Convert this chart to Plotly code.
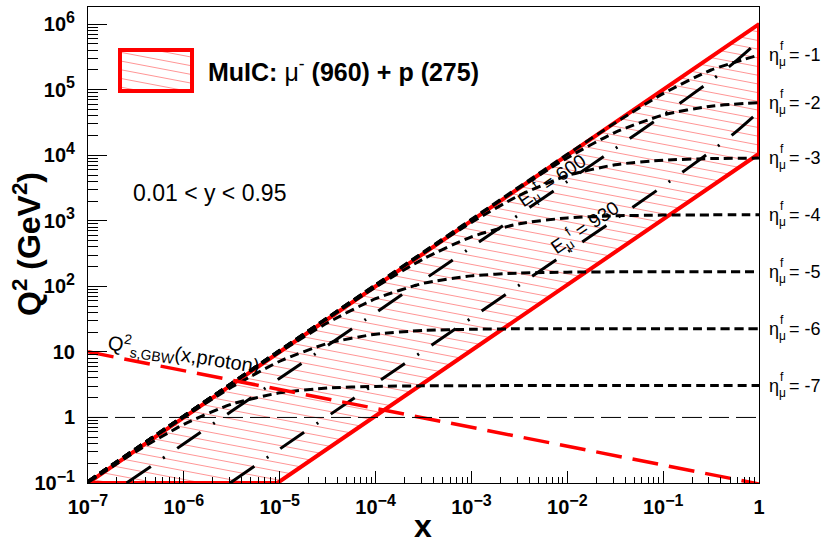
import math
import plotly.graph_objects as go

# ---------------- data ----------------
x_tick_vals = [1e-7, 1e-6, 1e-5, 1e-4, 1e-3, 1e-2, 1e-1, 1.0]
x_tick_exp = ["−7", "−6", "−5", "−4", "−3", "−2", "−1", None]
y_tick_vals = [0.1, 1, 10, 100, 1e3, 1e4, 1e5, 1e6]
y_tick_exp = ["−1", None, None, "2", "3", "4", "5", "6"]
y_tick_plain = [None, "1", "10", None, None, None, None, None]

# MuIC kinematic region (0.01 < y < 0.95, Q2 > 0.1, x < 1)
region_x = [1e-7, 1.0, 1.0, 9.47e-6, 1e-7]
region_q2 = [0.1, 1.003e6, 1.056e4, 0.1, 0.1]

# constant scattered-muon pseudorapidity curves
eta_x = [1e-7, 3.162e-7, 1e-6, 3.162e-6, 1e-5, 3.162e-5, 1e-4, 3.162e-4,
         1e-3, 3.162e-3, 1e-2, 3.162e-2, 0.1, 0.3162, 1.0]
eta_names = ["-1", "-2", "-3", "-4", "-5", "-6", "-7"]
eta_m1 = [0.1056, 0.3339, 1.056, 3.339, 10.56, 33.39, 105.6, 333.7, 1054, 3317, 10341, 31295, 87150, 200000, 338800]
eta_m2 = [0.1056, 0.3339, 1.056, 3.339, 10.56, 33.37, 105.4, 332.3, 1040, 3182, 9132, 22342, 41186, 56165, 63462]
eta_m3 = [0.1056, 0.3339, 1.056, 3.339, 10.55, 33.27, 104.4, 322.1, 946.6, 2445, 4899, 7175, 8410, 8895, 9059]
eta_m4 = [0.1056, 0.3338, 1.055, 3.330, 10.47, 32.51, 97.29, 262.9, 569.6, 902.4, 1107, 1192.5, 1222.4, 1232.1, 1235.3]
eta_m5 = [0.1056, 0.3333, 1.050, 3.274, 9.936, 27.84, 64.76, 111.5, 144.5, 159.4, 164.8, 166.6, 167.1, 167.3, 167.4]
eta_m6 = [0.1051, 0.3290, 1.009, 2.910, 7.202, 13.49, 18.65, 21.21, 22.17, 22.50, 22.60, 22.64, 22.65, 22.65, 22.65]
eta_m7 = [0.1021, 0.3011, 0.7854, 1.598, 2.376, 2.807, 2.979, 3.038, 3.056, 3.062, 3.064, 3.065, 3.065, 3.065, 3.065]
eta_curves = [eta_m1, eta_m2, eta_m3, eta_m4, eta_m5, eta_m6, eta_m7]

# constant scattered-muon energy curves
e600_x = [2.525e-7, 1e-6, 1e-5, 1e-4, 1e-3, 1e-2, 3.162e-2, 0.1, 0.3162, 0.5623, 1.0]
e600_q2 = [0.1, 0.396, 3.96, 39.6, 396.1, 3971, 12636, 40767, 137683, 265400, 554978]
e930_x = [3.03e-6, 1e-5, 1e-4, 1e-3, 1e-2, 3.162e-2, 0.1, 0.3162, 0.5623, 1.0]
e930_q2 = [0.1, 0.33, 3.3, 33.03, 331.0, 1053, 3397, 11473, 22118, 46248]

# GBW saturation scale
gbw_x = [1e-7, 1e-5, 1e-3, 1e-1, 1.0]
gbw_q2 = [10.03, 2.663, 0.707, 0.1877, 0.0967]

# Q2 = 1 reference line
ref_x = [1e-7, 1.0]
ref_q2 = [1.0, 1.0]

# ---------------- styling / geometry ----------------
W, H = 827, 544
ML, MR, MT, MB = 88, 68, 7, 61
PW, PH = W - ML - MR, H - MT - MB
X_RANGE = [-7, 0]
Y_RANGE = [-1, 6.262]
PXX = PW / (X_RANGE[1] - X_RANGE[0])
PXY = PH / (Y_RANGE[1] - Y_RANGE[0])
FONT = "Liberation Sans, Arial, Helvetica, sans-serif"
HATCH_SLOPE = -0.19   # screen slope (up positive)
HATCH_STEP = 8.7      # px
HATCH_COLOR = "rgb(255,150,150)"
SUP = "<sup><span style='font-size:16px'>{}</span></sup>"


def tick_label(exp, plain=None):
    if plain:
        return plain
    if exp is None:
        return "1"
    return "10" + SUP.format(exp)


x_tick_text = [tick_label(e) for e in x_tick_exp]
y_tick_text = [tick_label(e, p) for e, p in zip(y_tick_exp, y_tick_plain)]


def clip_line(pu, pv, c, m):
    """intersect v = c + m*u with convex polygon (pu, pv); return u-range"""
    us = []
    for i in range(len(pu) - 1):
        f1 = pv[i] - c - m * pu[i]
        f2 = pv[i + 1] - c - m * pu[i + 1]
        if f1 == f2:
            continue
        if f1 * f2 <= 0:
            t = f1 / (f1 - f2)
            us.append(pu[i] + t * (pu[i + 1] - pu[i]))
    if len(us) < 2:
        return None
    return min(us), max(us)


def px2paper(px, py):
    return (px - ML) / PW, (H - MB - py) / PH


fig = go.Figure()

# hatching inside the region
pu = [math.log10(v) * PXX for v in region_x]
pv = [math.log10(v) * PXY for v in region_q2]
cs = [v - HATCH_SLOPE * u for u, v in zip(pu, pv)]
hx, hy = [], []
c = min(cs) + HATCH_STEP / 2
while c < max(cs):
    r = clip_line(pu, pv, c, HATCH_SLOPE)
    if r:
        for u in r:
            hx.append(10 ** (u / PXX))
            hy.append(10 ** ((c + HATCH_SLOPE * u) / PXY))
        hx.append(None)
        hy.append(None)
    c += HATCH_STEP
fig.add_trace(go.Scatter(x=hx, y=hy, mode="lines",
                         line=dict(color=HATCH_COLOR, width=1), hoverinfo="skip"))

# region outline
fig.add_trace(go.Scatter(x=region_x, y=region_q2, mode="lines",
                         line=dict(color="#ff0000", width=4)))

# eta curves
for q in eta_curves:
    fig.add_trace(go.Scatter(x=eta_x, y=q, mode="lines",
                             line=dict(color="black", width=3, dash="9px,5px",
                                       shape="spline", smoothing=0.6)))

# energy curves
for xs, qs in [(e600_x, e600_q2), (e930_x, e930_q2)]:
    fig.add_trace(go.Scatter(x=xs, y=qs, mode="lines",
                             line=dict(color="black", width=3, dash="29px,15px,2px,15px",
                                       shape="spline", smoothing=0.6)))

# GBW saturation line
fig.add_trace(go.Scatter(x=gbw_x, y=gbw_q2, mode="lines",
                         line=dict(color="#ff0000", width=3.5, dash="26px,11px")))

# Q2 = 1
fig.add_trace(go.Scatter(x=ref_x, y=ref_q2, mode="lines",
                         line=dict(color="black", width=1, dash="20px,7px")))

annotations = []
shapes = []

# eta labels on the right
for name, q in zip(eta_names, eta_curves):
    yv = math.log10(q[-1])
    base = dict(xref="paper", x=1, yref="y", y=yv, xanchor="left", yanchor="middle",
                showarrow=False)
    annotations.append(dict(base, text="η", xshift=8, font=dict(family=FONT, size=18, color="black")))
    annotations.append(dict(base, text="f", xshift=19, yshift=9, font=dict(family=FONT, size=12, color="black")))
    annotations.append(dict(base, text="μ", xshift=18, yshift=-7, font=dict(family=FONT, size=12, color="black")))
    annotations.append(dict(base, text="= " + name, xshift=28, font=dict(family=FONT, size=18, color="black")))

# energy labels
angle = -math.degrees(math.atan(PXY / PXX))
annotations.append(dict(xref="x", yref="y", x=math.log10(6.9e-3), y=math.log10(4160),
                        xanchor="center", yanchor="middle",
                        text="E<sub>μ</sub><sup>f</sup> = 600", textangle=angle, showarrow=False,
                        font=dict(family=FONT, size=19, color="black")))
annotations.append(dict(xref="x", yref="y", x=math.log10(0.0152), y=math.log10(798),
                        xanchor="center", yanchor="middle",
                        text="E<sub>μ</sub><sup>f</sup> = 930", textangle=angle, showarrow=False,
                        font=dict(family=FONT, size=19, color="black")))

# GBW label
annotations.append(dict(xref="x", yref="y", x=math.log10(1.0e-6), y=0.955,
                        xanchor="center", yanchor="middle",
                        text="Q<sup>2</sup><sub>s,GBW</sub>(x,proton)", textangle=9, showarrow=False,
                        font=dict(family=FONT, size=20, color="black")))

# y-range text
t = px2paper(209, 193)
annotations.append(dict(xref="paper", yref="paper", x=t[0], y=t[1],
                        xanchor="center", yanchor="middle",
                        text="0.01 < y < 0.95", showarrow=False,
                        font=dict(family=FONT, size=23, color="black")))

# legend box
lx0, lx1, ly0, ly1 = 120, 192, 50, 91   # pixel box of the legend symbol
p0 = px2paper(lx0, ly1)
p1 = px2paper(lx1, ly0)
ru = [lx0, lx1, lx1, lx0, lx0]
rv = [-ly1, -ly1, -ly0, -ly0, -ly1]
rc = [v - HATCH_SLOPE * u for u, v in zip(ru, rv)]
c = min(rc) + 4
while c < max(rc):
    r = clip_line(ru, rv, c, HATCH_SLOPE)
    if r and r[1] - r[0] > 1:
        a = px2paper(r[0], -(c + HATCH_SLOPE * r[0]))
        b = px2paper(r[1], -(c + HATCH_SLOPE * r[1]))
        shapes.append(dict(type="line", xref="paper", yref="paper", x0=a[0], y0=a[1], x1=b[0], y1=b[1],
                           line=dict(color=HATCH_COLOR, width=1)))
    c += HATCH_STEP
shapes.append(dict(type="rect", xref="paper", yref="paper", x0=p0[0], y0=p0[1], x1=p1[0], y1=p1[1],
                   line=dict(color="#ff0000", width=4), fillcolor="rgba(0,0,0,0)"))
lt = px2paper(206, 70)
annotations.append(dict(xref="paper", yref="paper", x=lt[0], y=lt[1], xanchor="left", yanchor="middle",
                        text="<b>MuIC: </b>μ<sup>-</sup><b> (960) + p (275)</b>", showarrow=False,
                        font=dict(family=FONT, size=25, color="black")))

# axis titles
t = px2paper(27, 244)
annotations.append(dict(xref="paper", yref="paper", x=t[0], y=t[1], textangle=-90,
                        xanchor="center", yanchor="middle",
                        text="<b>Q<sup>2</sup> (GeV<sup>2</sup>)</b>", showarrow=False,
                        font=dict(family=FONT, size=32, color="black")))
t = px2paper(423, 526)
annotations.append(dict(xref="paper", yref="paper", x=t[0], y=t[1],
                        xanchor="center", yanchor="middle",
                        text="<b>x</b>", showarrow=False,
                        font=dict(family=FONT, size=32, color="black")))

fig.update_layout(
    width=W, height=H, autosize=False,
    margin=dict(l=ML, r=MR, t=MT, b=MB),
    paper_bgcolor="white", plot_bgcolor="white",
    showlegend=False,
    annotations=annotations, shapes=shapes,
    xaxis=dict(type="log", range=X_RANGE, showgrid=False, zeroline=False,
               showline=True, linecolor="black", linewidth=1, mirror=True,
               ticks="inside", ticklen=12, tickcolor="black", tickwidth=1,
               tickvals=x_tick_vals, ticktext=x_tick_text, ticklabelstandoff=6,
               tickfont=dict(family=FONT, size=20, color="black", weight="bold"),
               minor=dict(ticks="inside", ticklen=6, dtick="D1", tickcolor="black",
                          tickwidth=1, showgrid=False)),
    yaxis=dict(type="log", range=Y_RANGE, showgrid=False, zeroline=False,
               showline=True, linecolor="black", linewidth=1, mirror=True,
               ticks="inside", ticklen=19, tickcolor="black", tickwidth=1,
               tickvals=y_tick_vals, ticktext=y_tick_text, ticklabelstandoff=8,
               tickfont=dict(family=FONT, size=20, color="black", weight="bold"),
               minor=dict(ticks="inside", ticklen=10, dtick="D1", tickcolor="black",
                          tickwidth=1, showgrid=False)),
)

fig.write_html("out.html", config={"displayModeBar": False},
               post_script="document.body.style.margin='0';")
